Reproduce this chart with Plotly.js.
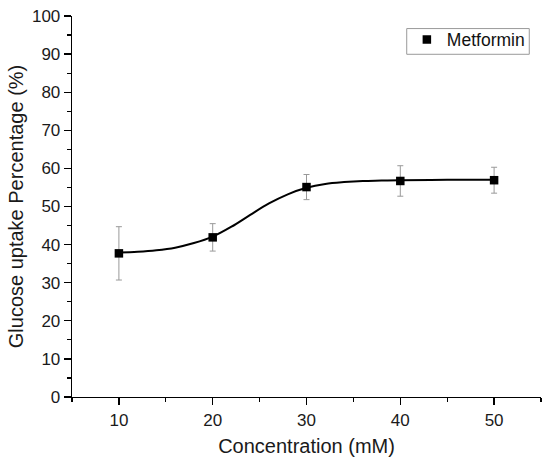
<!DOCTYPE html>
<html>
<head>
<meta charset="utf-8">
<script src="https://cdn.plot.ly/plotly-3.0.1.min.js"></script>
<style>html,body{margin:0;padding:0;background:#fff;}#chart{width:550px;height:465px;}</style>
</head>
<body>
<div id="chart"></div>
<script>
// Measured data
var concentration = [10, 20, 30, 40, 50];
var uptake = [37.7, 41.9, 55.1, 56.7, 56.9];
var uptakeErr = [7.0, 3.6, 3.3, 4.0, 3.4];

// Fitted curve
var fitX = [10, 12, 14, 16, 18, 20, 22, 24, 26, 28, 30, 32, 34, 36, 38, 40, 45, 50];
var fitY = [37.9, 38.1, 38.5, 39.2, 40.4, 42.1, 44.7, 47.8, 50.8, 53.2, 54.9, 55.9, 56.4, 56.7, 56.8, 56.9, 57.0, 57.0];

var xTicks = [10, 20, 30, 40, 50];
var yTicks = [0, 10, 20, 30, 40, 50, 60, 70, 80, 90, 100];

var font = "Arial, 'Liberation Sans', sans-serif";

var traces = [
  {
    x: fitX, y: fitY, mode: 'lines', type: 'scatter',
    line: {color: '#000', width: 2, shape: 'spline', smoothing: 1},
    showlegend: false, hoverinfo: 'skip'
  },
  {
    x: concentration, y: uptake, mode: 'markers', type: 'scatter',
    name: 'Metformin',
    marker: {symbol: 'square', size: 8.5, color: '#000'},
    error_y: {type: 'data', array: uptakeErr, visible: true, color: '#999', thickness: 1, width: 3}
  }
];

var axisCommon = {
  showline: true, linecolor: '#000', linewidth: 1.3,
  ticks: 'outside', ticklen: 7, tickwidth: 1.3, tickcolor: '#000',
  showgrid: false, zeroline: false, mirror: false,
  tickfont: {family: font, size: 17, color: '#1a1a1a'}
};

var layout = {
  width: 550, height: 465,
  margin: {l: 72, r: 9, t: 16, b: 68},
  paper_bgcolor: '#fff', plot_bgcolor: '#fff',
  font: {family: font, color: '#1a1a1a'},
  xaxis: Object.assign({}, axisCommon, {
    range: [5, 55], tickmode: 'array', tickvals: xTicks, ticktext: xTicks.map(String),
    minor: {ticks: 'outside', ticklen: 4, tickwidth: 1.2, tickcolor: '#000', tickvals: [5, 15, 25, 35, 45, 55], showgrid: false},
    title: {text: 'Concentration (mM)', font: {family: font, size: 20, color: '#1a1a1a'}, standoff: 10}
  }),
  yaxis: Object.assign({}, axisCommon, {
    range: [0, 100], tickmode: 'array', tickvals: yTicks, ticktext: yTicks.map(String),
    minor: {ticks: 'outside', ticklen: 4, tickwidth: 1.2, tickcolor: '#000', tickvals: [5, 15, 25, 35, 45, 55, 65, 75, 85, 95], showgrid: false},
    title: {text: 'Glucose uptake Percentage (%)', font: {family: font, size: 20, color: '#1a1a1a'}, standoff: 3}
  }),
  legend: {
    x: 0.714, y: 0.985, xanchor: 'left', yanchor: 'top',
    borderwidth: 0, bgcolor: 'rgba(0,0,0,0)',
    font: {family: font, size: 17.5, color: '#111'}
  },
  shapes: [{
    type: 'rect', xref: 'paper', yref: 'paper',
    x0: 0.7137, x1: 0.975, y0: 0.8995, y1: 0.967,
    line: {color: '#999', width: 1}, fillcolor: 'rgba(0,0,0,0)', layer: 'below'
  }],
  showlegend: true
};

Plotly.newPlot('chart', traces, layout, {displayModeBar: false, staticPlot: true});
</script>
</body>
</html>
